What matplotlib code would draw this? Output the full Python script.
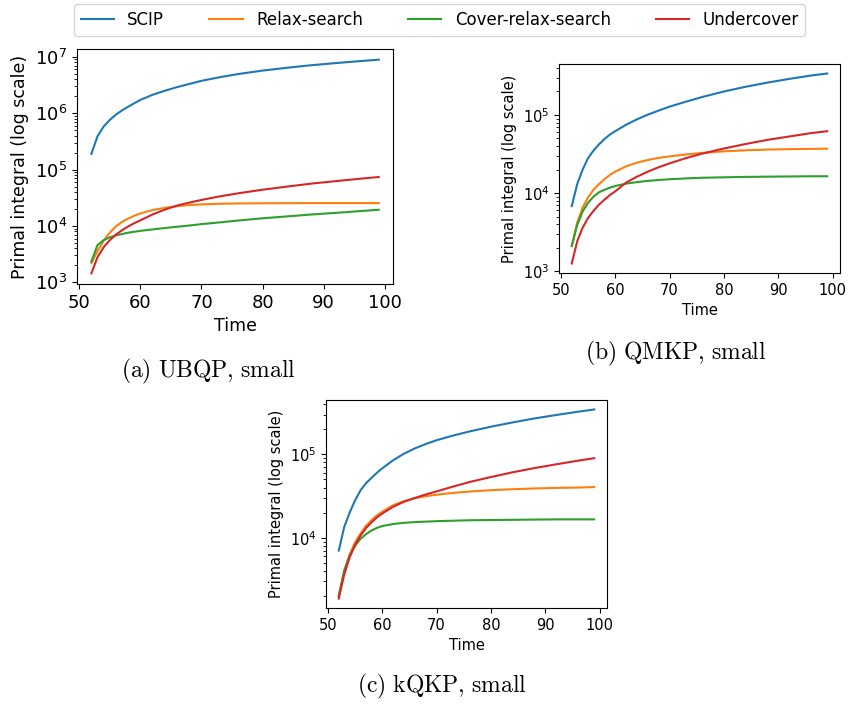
import matplotlib
matplotlib.use("Agg")
import matplotlib.pyplot as plt

plt.rcParams['font.family'] = 'DejaVu Sans'
plt.rcParams['mathtext.fontset'] = 'cm'

# time steps (x values)
time = [52, 53, 54, 55, 56, 57, 58, 59, 60, 62, 64, 66, 68, 70, 73, 76, 80, 84, 88, 92, 96, 99]

labels = ['SCIP', 'Relax-search', 'Cover-relax-search', 'Undercover']
colors = ['tab:blue', 'tab:orange', 'tab:green', 'tab:red']

# (a) UBQP, small
ubqp_scip = [1.9e5, 3.9e5, 5.8e5, 7.6e5, 9.4e5, 1.12e6, 1.3e6, 1.5e6, 1.72e6, 2.12e6, 2.5e6,
             2.9e6, 3.3e6, 3.75e6, 4.35e6, 4.95e6, 5.7e6, 6.4e6, 7.1e6, 7.75e6, 8.4e6, 8.9e6]
ubqp_relax = [2.2e3, 3.6e3, 5.5e3, 7.6e3, 9.8e3, 1.18e4, 1.35e4, 1.52e4, 1.67e4, 1.92e4, 2.1e4,
              2.25e4, 2.35e4, 2.42e4, 2.48e4, 2.51e4, 2.53e4, 2.54e4, 2.55e4, 2.55e4, 2.55e4, 2.55e4]
ubqp_cover = [2.35e3, 4.6e3, 5.6e3, 6.3e3, 6.8e3, 7.2e3, 7.6e3, 7.9e3, 8.2e3, 8.7e3, 9.2e3,
              9.7e3, 1.02e4, 1.08e4, 1.16e4, 1.25e4, 1.37e4, 1.48e4, 1.6e4, 1.71e4, 1.84e4, 1.94e4]
ubqp_under = [1.45e3, 2.8e3, 4.2e3, 5.6e3, 7.0e3, 8.4e3, 9.8e3, 1.12e4, 1.26e4, 1.6e4, 1.95e4,
              2.3e4, 2.6e4, 2.9e4, 3.35e4, 3.8e4, 4.4e4, 5.0e4, 5.65e4, 6.25e4, 6.9e4, 7.4e4]

# (b) QMKP, small
qmkp_scip = [6.8e3, 1.3e4, 2.0e4, 2.8e4, 3.5e4, 4.2e4, 4.9e4, 5.6e4, 6.2e4, 7.5e4, 8.8e4,
             1.01e5, 1.14e5, 1.28e5, 1.48e5, 1.7e5, 2.0e5, 2.3e5, 2.6e5, 2.9e5, 3.2e5, 3.4e5]
qmkp_relax = [2.1e3, 4.2e3, 6.5e3, 8.8e3, 1.1e4, 1.3e4, 1.5e4, 1.7e4, 1.88e4, 2.2e4, 2.45e4,
              2.65e4, 2.82e4, 2.95e4, 3.12e4, 3.27e4, 3.42e4, 3.53e4, 3.6e4, 3.65e4, 3.68e4, 3.7e4]
qmkp_cover = [2.1e3, 3.9e3, 5.8e3, 7.5e3, 9.0e3, 1.02e4, 1.1e4, 1.17e4, 1.23e4, 1.32e4, 1.38e4,
              1.43e4, 1.47e4, 1.5e4, 1.54e4, 1.57e4, 1.59e4, 1.61e4, 1.62e4, 1.63e4, 1.64e4, 1.64e4]
qmkp_under = [1.25e3, 2.4e3, 3.6e3, 4.8e3, 5.9e3, 7.1e3, 8.2e3, 9.4e3, 1.05e4, 1.36e4, 1.62e4,
              1.88e4, 2.14e4, 2.4e4, 2.8e4, 3.2e4, 3.72e4, 4.25e4, 4.8e4, 5.3e4, 5.85e4, 6.2e4]

# (c) kQKP, small
kqkp_scip = [7.0e3, 1.34e4, 2.0e4, 2.8e4, 3.7e4, 4.5e4, 5.2e4, 6.0e4, 6.8e4, 8.5e4, 1.02e5,
             1.18e5, 1.33e5, 1.48e5, 1.68e5, 1.88e5, 2.15e5, 2.42e5, 2.7e5, 2.97e5, 3.25e5, 3.46e5]
kqkp_relax = [2.0e3, 4.0e3, 6.3e3, 8.8e3, 1.12e4, 1.38e4, 1.62e4, 1.85e4, 2.05e4, 2.45e4, 2.75e4,
              2.98e4, 3.15e4, 3.28e4, 3.45e4, 3.58e4, 3.72e4, 3.82e4, 3.9e4, 3.96e4, 4.0e4, 4.05e4]
kqkp_cover = [2.0e3, 4.0e3, 6.1e3, 8.0e3, 9.7e3, 1.1e4, 1.22e4, 1.31e4, 1.38e4, 1.46e4, 1.51e4,
              1.54e4, 1.56e4, 1.58e4, 1.6e4, 1.62e4, 1.63e4, 1.64e4, 1.65e4, 1.66e4, 1.66e4, 1.66e4]
kqkp_under = [1.86e3, 3.6e3, 5.8e3, 8.2e3, 1.06e4, 1.3e4, 1.52e4, 1.75e4, 1.95e4, 2.35e4, 2.7e4,
              3.0e4, 3.3e4, 3.6e4, 4.1e4, 4.65e4, 5.35e4, 6.1e4, 6.85e4, 7.6e4, 8.4e4, 9.0e4]

fig = plt.figure(figsize=(8.52, 7.08), dpi=100)

panels = [
    ([0.0904, 0.5989, 0.371, 0.3319], [ubqp_scip, ubqp_relax, ubqp_cover, ubqp_under], 13, 12.5,
     r'$\mathrm{(a)\ UBQP{,}\ small}$', (208 / 852, 1 - 371 / 708)),
    ([0.6561, 0.6144, 0.3298, 0.2952], [qmkp_scip, qmkp_relax, qmkp_cover, qmkp_under], 10.5, 10.5,
     r'$\mathrm{(b)\ QMKP{,}\ small}$', (676 / 852, 1 - 353 / 708)),
    ([0.3826, 0.1412, 0.3298, 0.2938], [kqkp_scip, kqkp_relax, kqkp_cover, kqkp_under], 10.5, 10.5,
     r'$\mathrm{(c)\ kQKP{,}\ small}$', (442 / 852, 1 - 686 / 708)),
]

handles = []
for rect, series, tfs, lfs, caption, cpos in panels:
    ax = fig.add_axes(rect)
    lines = []
    for vals, lab, col in zip(series, labels, colors):
        ln, = ax.plot(time, vals, color=col, label=lab)
        lines.append(ln)
    ax.set_yscale('log')
    ax.set_xticks([50, 60, 70, 80, 90, 100])
    ax.tick_params(labelsize=tfs)
    ax.set_xlabel('Time', fontsize=lfs)
    ax.set_ylabel('Primal integral (log scale)', fontsize=lfs)
    fig.text(cpos[0], cpos[1], caption, ha='center', va='center', fontsize=17)
    if not handles:
        handles = lines

fig.legend(handles, labels, loc='center', ncol=4, mode='expand', fontsize=12,
           bbox_to_anchor=(0.0771, 0.9718, 0.8779, 0.0))

fig.savefig('out.png', dpi=100)
